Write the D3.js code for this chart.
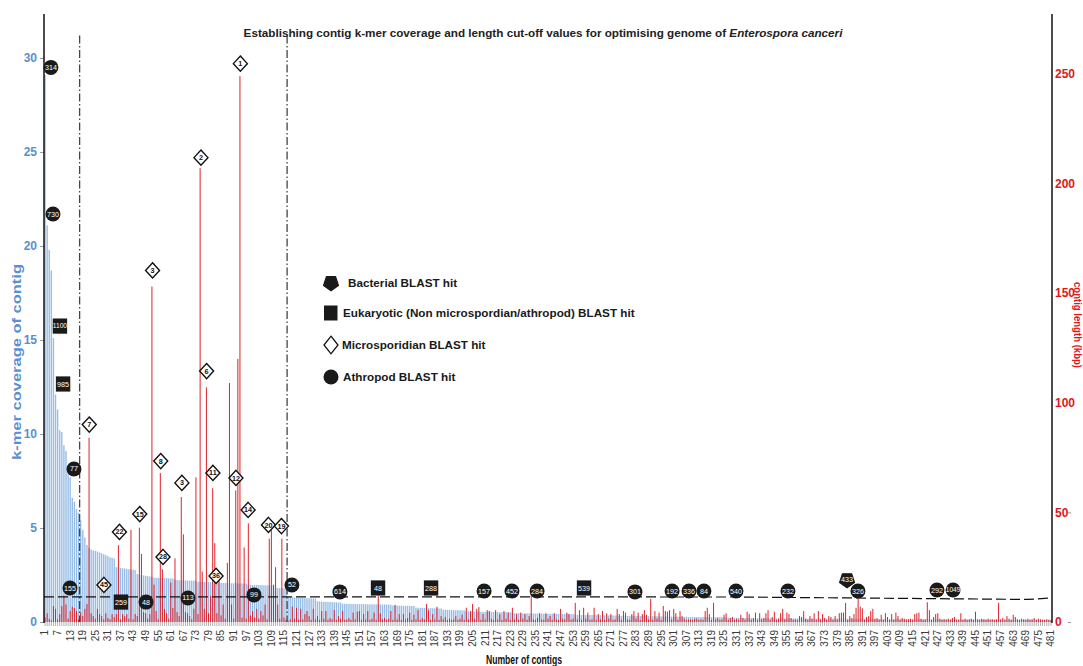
<!DOCTYPE html>
<html>
<head>
<meta charset="utf-8">
<script src="https://cdn.jsdelivr.net/npm/d3@7"></script>
<style>
  body { margin: 0; background: #fff; }
  svg { display: block; }
</style>
</head>
<body>
<svg id="chart" width="1083" height="666"></svg>
<script>
// k-mer coverage of each contig (contigs ranked by coverage)
const coverage = [
  29.1, 21.1, 19.8, 18.7, 15.1, 12.1, 11.3, 10.2, 10.1, 9.4,
  9.1, 8.2, 7.7, 6.6, 6.4, 6.0, 5.8, 5.4, 4.9, 4.5,
  4.1, 3.94, 3.86, 3.8, 3.78, 3.75, 3.7, 3.66, 3.6, 3.56,
  3.5, 3.44, 3.41, 3.38, 2.92, 2.9, 2.88, 2.86, 2.85, 2.83,
  2.81, 2.8, 2.78, 2.76, 2.55, 2.52, 2.5, 2.48, 2.46, 2.44,
  2.42, 2.41, 2.36, 2.35, 2.35, 2.34, 2.34, 2.33, 2.33, 2.32,
  2.32, 2.31, 2.24, 2.23, 2.23, 2.22, 2.22, 2.21, 2.21, 2.2,
  2.2, 2.2, 2.19, 2.14, 2.14, 2.13, 2.13, 2.13, 2.12, 2.12,
  2.12, 2.11, 2.11, 2.1, 2.08, 2.08, 2.07, 2.07, 2.07, 2.06,
  2.06, 2.06, 2.05, 2.05, 2.05, 2.04, 2.04, 1.98, 1.98, 1.97,
  1.97, 1.97, 1.96, 1.96, 1.96, 1.95, 1.95, 1.95, 1.94, 1.94,
  1.82, 1.81, 1.8, 1.8, 1.79, 1.78, 1.34, 1.33, 1.32, 1.31,
  1.3, 1.29, 1.28, 1.28, 1.27, 1.27, 1.26, 1.26, 1.25, 1.25,
  1.1, 1.09, 1.08, 1.08, 1.07, 1.07, 1.06, 1.06, 1.05, 1.05,
  1.04, 1.04, 0.97, 0.97, 0.97, 0.96, 0.96, 0.96, 0.96, 0.95,
  0.95, 0.95, 0.95, 0.95, 0.94, 0.94, 0.94, 0.94, 0.94, 0.93,
  0.93, 0.93, 0.93, 0.93, 0.92, 0.92, 0.88, 0.88, 0.87, 0.87,
  0.87, 0.86, 0.86, 0.86, 0.85, 0.85, 0.85, 0.76, 0.76, 0.75,
  0.75, 0.75, 0.74, 0.74, 0.74, 0.73, 0.73, 0.73, 0.72, 0.72,
  0.65, 0.65, 0.64, 0.64, 0.64, 0.63, 0.63, 0.63, 0.62, 0.62,
  0.62, 0.56, 0.56, 0.56, 0.55, 0.55, 0.55, 0.55, 0.54, 0.54,
  0.54, 0.54, 0.54, 0.53, 0.53, 0.53, 0.53, 0.53, 0.52, 0.52,
  0.52, 0.52, 0.52, 0.51, 0.47, 0.47, 0.47, 0.46, 0.46, 0.46,
  0.46, 0.46, 0.45, 0.45, 0.45, 0.45, 0.45, 0.45, 0.44, 0.44,
  0.44, 0.44, 0.44, 0.44, 0.43, 0.43, 0.43, 0.43, 0.43, 0.42,
  0.42, 0.42, 0.42, 0.38, 0.38, 0.38, 0.38, 0.37, 0.37, 0.37,
  0.37, 0.37, 0.37, 0.36, 0.36, 0.36, 0.36, 0.36, 0.36, 0.35,
  0.35, 0.35, 0.35, 0.35, 0.33, 0.33, 0.33, 0.33, 0.32, 0.32,
  0.32, 0.32, 0.32, 0.32, 0.32, 0.31, 0.31, 0.31, 0.31, 0.31,
  0.31, 0.31, 0.31, 0.3, 0.3, 0.29, 0.29, 0.29, 0.29, 0.29,
  0.28, 0.28, 0.28, 0.28, 0.28, 0.28, 0.28, 0.27, 0.27, 0.27,
  0.27, 0.27, 0.27, 0.27, 0.27, 0.26, 0.26, 0.26, 0.26, 0.26,
  0.26, 0.26, 0.26, 0.26, 0.25, 0.25, 0.22, 0.22, 0.22, 0.22,
  0.22, 0.22, 0.21, 0.21, 0.21, 0.21, 0.21, 0.21, 0.21, 0.21,
  0.2, 0.2, 0.2, 0.2, 0.2, 0.2, 0.2, 0.2, 0.2, 0.2,
  0.19, 0.19, 0.19, 0.19, 0.19, 0.19, 0.19, 0.19, 0.19, 0.19,
  0.19, 0.19, 0.18, 0.18, 0.18, 0.18, 0.18, 0.18, 0.18, 0.18,
  0.18, 0.18, 0.18, 0.18, 0.18, 0.18, 0.18, 0.18, 0.18, 0.18,
  0.17, 0.17, 0.17, 0.17, 0.17, 0.17, 0.17, 0.17, 0.17, 0.17,
  0.17, 0.17, 0.17, 0.17, 0.17, 0.16, 0.16, 0.16, 0.16, 0.16,
  0.16, 0.16, 0.16, 0.16, 0.16, 0.16, 0.16, 0.16, 0.16, 0.16,
  0.16, 0.16, 0.16, 0.16, 0.16, 0.15, 0.15, 0.15, 0.15, 0.15,
  0.15, 0.15, 0.15, 0.15, 0.15, 0.15, 0.15, 0.15, 0.15, 0.15,
  0.15, 0.15, 0.15, 0.15, 0.15, 0.14, 0.14, 0.14, 0.14, 0.14,
  0.14, 0.14, 0.14, 0.14, 0.14, 0.14, 0.14, 0.14, 0.14, 0.14,
  0.14, 0.14, 0.14, 0.14, 0.14, 0.13, 0.13, 0.13, 0.13, 0.13,
  0.13, 0.13, 0.13, 0.13, 0.13, 0.13, 0.13, 0.13, 0.13, 0.13,
  0.13, 0.13, 0.13, 0.13, 0.13, 0.12, 0.12, 0.12, 0.12, 0.12, 0.12
];

// contig length in kbp, same contig order
const lengthKbp = [
  2, 4, 1.5, 0.8, 7.3, 6, 1.2, 3.6, 7.3, 12,
  8, 1.5, 5, 7, 6.4, 5, 1.2, 4.3, 2.7, 6,
  8.2, 84, 4, 2.7, 1.5, 6, 3.6, 2.7, 1.2, 4,
  1.8, 1.2, 3.6, 2.3, 3.6, 35, 1.2, 3.6, 2.7, 3.6,
  1.5, 42, 1.2, 3.6, 2.7, 43, 31, 4.5, 4, 1.5,
  3.6, 153, 17, 5, 1.2, 68, 24, 6, 4, 1.5,
  18, 6.4, 29, 4.5, 2.7, 57, 40, 4.5, 4, 2.7,
  1.2, 6, 66, 3.6, 207, 23, 6, 107, 4, 12,
  61, 36, 4, 22, 3, 8, 1.5, 27, 109, 8,
  1.5, 60, 120, 249, 2, 34, 1.5, 45, 3, 5,
  2, 6, 1.5, 5, 3, 8, 1.2, 38, 42, 17,
  25, 8, 1.5, 38, 2, 1, 0.5, 1.2, 7, 1.5,
  6.5, 1, 6, 1.2, 3.6, 5, 2.7, 1, 6, 1.2,
  2.7, 1, 5, 1.5, 5, 1, 1.8, 1.2, 5.5, 1,
  2.7, 1.5, 5, 1, 1.2, 1.8, 1, 4.3, 1.2, 4.7,
  5, 1, 3.6, 1.2, 5, 1, 1.5, 4.3, 1, 12,
  4, 1.2, 1.8, 1, 1.5, 5, 1, 7.8, 1.2, 3.6,
  1, 3.6, 1.2, 1.8, 4.3, 1, 3.3, 1.2, 5.4, 1,
  1.8, 1.2, 8.2, 5.4, 1, 3.6, 1.2, 7, 1, 2.7,
  1.2, 2.3, 1, 1.5, 1, 1.2, 2.7, 1, 1.5, 3.3,
  1, 6.5, 1.2, 5, 8.2, 1.5, 6, 6.8, 1, 3.6,
  1.2, 5.4, 5, 1.5, 1, 5.4, 1.2, 3.6, 1, 5,
  1.5, 4.3, 1, 6.5, 1.2, 3.6, 1, 4.3, 1.5, 3.6,
  1, 2.7, 14, 1.2, 1, 1.8, 4, 1.2, 1, 4,
  1.5, 2.7, 1, 4, 1.2, 1, 6, 1.5, 1.2, 4.3,
  3.6, 1, 1.5, 8.7, 1.2, 5.4, 1, 6.5, 1.5, 4.3,
  1, 1.2, 6.5, 1, 3.6, 1.2, 5, 1, 4, 1.5,
  3.6, 1, 1.2, 6, 3.6, 1, 5, 4.3, 1.2, 1,
  3.6, 5, 1.5, 4.3, 1, 3.6, 5.4, 3.3, 1.2, 10.5,
  1, 5, 1.5, 4.3, 1, 7.3, 5, 4.7, 5.4, 1.2,
  6, 4, 1, 5, 2.7, 1.5, 1, 1.2, 1.2, 1,
  1.5, 1.5, 1, 1.2, 1, 5, 6.5, 3.6, 1, 8.7,
  1.2, 1.8, 1, 1.2, 3.3, 4, 1, 1.8, 2.3, 1,
  1.5, 1, 3.3, 1.8, 1, 4.7, 3.6, 1, 1.8, 4.3,
  1, 4, 1.2, 1.8, 4, 5.4, 1, 2.3, 4.7, 1,
  1.5, 4, 6, 1.2, 4.3, 3.6, 1.8, 1, 1.2, 1,
  2.7, 2.3, 5, 1.5, 1, 2.7, 1.5, 4, 1, 5,
  1.2, 3.6, 1.8, 1, 2.7, 2.3, 1, 2.7, 1.2, 4,
  4.3, 4.3, 8.7, 1, 2.7, 1.8, 3.6, 6.5, 10.5, 7,
  6.2, 1, 2.3, 2.7, 5, 6, 1.5, 1.8, 1, 3.3,
  1, 4, 2.3, 1, 3.6, 1, 4.3, 2.7, 1, 1.8,
  1.5, 1, 1.2, 1.5, 1, 3.6, 4, 4.3, 1.5, 1,
  1.2, 9, 5.4, 1, 2.3, 3.6, 4, 1.5, 1, 1.2,
  1, 1.5, 1, 1.8, 2.3, 1, 1, 4, 1, 1.5,
  1, 1.2, 1.5, 1, 4.7, 1.2, 1, 1.5, 1.2, 1,
  1.5, 1, 1.2, 1, 1.2, 8.7, 1.2, 1.8, 1, 2.7,
  1.5, 1, 3.3, 2.3, 1.2, 1, 1.5, 1.2, 1, 1.5,
  1, 1.2, 1.8, 1, 1.5, 1.2, 1, 1, 1.2, 1, 0.8
];

const contigs = d3.range(1, coverage.length + 1);

const xTickLabels = [1, 7, 13, 19, 25, 31, 37, 43, 49, 55, 61, 67, 73, 79, 85, 91, 97,
  103, 109, 115, 121, 127, 133, 139, 145, 151, 157, 163, 169, 175, 181, 187, 193, 199,
  205, 211, 217, 223, 229, 235, 241, 247, 253, 259, 265, 271, 277, 283, 289, 295, 301,
  307, 313, 319, 325, 331, 337, 343, 349, 355, 361, 367, 373, 379, 385, 391, 397, 403,
  409, 415, 421, 427, 433, 439, 445, 451, 457, 463, 469, 475, 481];
const coverageTicks = [0, 5, 10, 15, 20, 25, 30];
const lengthTicks = [0, 50, 100, 150, 200, 250];

// cut-off values: coverage threshold and the two contig-number boundaries
const coverageCutoff = [[0.5, 1.34], [330, 1.33], [470, 1.2], [481, 1.28]];
const contigCutoffs = [17.5, 116.5];

// BLAST hits: [contig position, height on coverage axis, label]
const bacterialHits = [[383.7, 2.23, "433"]];
const eukaryoticHits = [
  [8.1, 15.74, "1100"], [9.6, 12.66, "985"], [37.2, 1.06, "259"],
  [159.9, 1.81, "48"], [185.2, 1.81, "288"], [258.2, 1.81, "539"]
];
const microsporidianHits = [
  [94.2, 29.7, "1"], [75.4, 24.7, "2"], [52.3, 18.7, "3"], [78.1, 13.35, "6"],
  [22.1, 10.5, "7"], [56.2, 8.56, "8"], [66.3, 7.4, "3"], [81.1, 7.93, "11"],
  [92.1, 7.66, "12"], [97.9, 5.96, "14"], [46.2, 5.74, "15"], [36.5, 4.79, "22"],
  [107.6, 5.16, "20"], [113.8, 5.1, "19"], [57.3, 3.46, "28"], [29.1, 1.97, "45"],
  [82.6, 2.45, "36"]
];
const athropodHits = [
  [3.8, 29.5, "314"], [4.8, 21.7, "730"], [14.8, 8.14, "77"], [12.9, 1.81, "155"],
  [49.2, 1.06, "48"], [69.2, 1.28, "113"], [100.7, 1.44, "99"], [118.8, 1.97, "52"],
  [141.7, 1.6, "614"], [210.5, 1.65, "157"], [223.8, 1.65, "452"], [235.8, 1.65, "284"],
  [282.5, 1.6, "301"], [300.2, 1.65, "192"], [308.3, 1.65, "336"], [315.4, 1.65, "84"],
  [330.7, 1.65, "540"], [355.5, 1.65, "232"], [388.9, 1.65, "326"], [426.6, 1.7, "292"],
  [434.3, 1.7, "1049"]
];

const legendItems = [
  { type: "bacterial", text: "Bacterial BLAST hit" },
  { type: "eukaryotic", text: "Eukaryotic (Non microspordian/athropod) BLAST hit" },
  { type: "microsporidian", text: "Microsporidian BLAST hit" },
  { type: "athropod", text: "Athropod BLAST hit" }
];

// ---- layout & styles ----
const SANS = "'Liberation Sans', Arial, Helvetica, sans-serif";
const NARROW = "'Liberation Sans Narrow', 'Liberation Sans', Arial, sans-serif";
const BLUE = "#6fa3dc";
const BLUE_TXT = "#5a8fd0";
const RED = "#e0222a";
const RED_TXT = "#e0161d";
const P = { left: 44, right: 1052, top: 14, base: 622 };

const svg = d3.select("#chart");

const x = d3.scaleBand().domain(contigs).range([P.left, P.right]);
const xc = d3.scaleLinear().domain([0.5, contigs.length + 0.5]).range([P.left, P.right]);
const yCov = d3.scaleLinear().domain([0, 32.34]).range([P.base, P.top]);
const yLen = d3.scaleLinear().domain([0, 277.3]).range([P.base, P.top]);
const bw = x.bandwidth();

// coverage bars (behind)
svg.append("g").selectAll("rect")
  .data(contigs)
  .join("rect")
  .attr("x", d => x(d) + bw / 2 - 0.7)
  .attr("width", 1.4)
  .attr("y", d => yCov(coverage[d - 1]))
  .attr("height", d => P.base - yCov(coverage[d - 1]))
  .attr("fill", BLUE)
  .attr("fill-opacity", 0.72);

// length bars (front)
svg.append("g").selectAll("rect")
  .data(contigs)
  .join("rect")
  .attr("x", d => x(d) + bw / 2 - 0.5)
  .attr("width", 1.0)
  .attr("y", d => yLen(lengthKbp[d - 1]))
  .attr("height", d => P.base - yLen(lengthKbp[d - 1]))
  .attr("fill", RED);

// x axis: minor ticks at each contig
svg.append("g").selectAll("line")
  .data(contigs)
  .join("line")
  .attr("x1", d => x(d) + bw / 2).attr("x2", d => x(d) + bw / 2)
  .attr("y1", P.base).attr("y2", P.base + 4)
  .attr("stroke", "#aaa").attr("stroke-width", 0.9);

const xAxis = svg.append("g")
  .attr("transform", `translate(0,${P.base})`)
  .call(d3.axisBottom(x).tickValues(xTickLabels).tickSize(0));
xAxis.select(".domain").remove();
xAxis.selectAll("text")
  .attr("transform", "rotate(-90)")
  .attr("text-anchor", "end")
  .attr("x", -8).attr("y", 0).attr("dy", "0.34em")
  .attr("font-family", SANS).attr("font-size", 10).attr("fill", "#3a3a3a");

// left axis
const yAxisL = svg.append("g")
  .attr("transform", `translate(${P.left},0)`)
  .call(d3.axisLeft(yCov).tickValues(coverageTicks).tickSize(4).tickPadding(3));
yAxisL.select(".domain").remove();
yAxisL.selectAll("line").attr("stroke", "#999");
yAxisL.selectAll("text")
  .attr("font-family", NARROW).attr("font-weight", "bold").attr("font-size", 12)
  .attr("fill", BLUE_TXT);

// right axis
const yAxisR = svg.append("g")
  .attr("transform", `translate(${P.right},0)`)
  .call(d3.axisRight(yLen).tickValues(lengthTicks).tickSize(0).tickPadding(3));
yAxisR.select(".domain").remove();
yAxisR.selectAll("text")
  .attr("font-family", NARROW).attr("font-weight", "bold").attr("font-size", 12)
  .attr("fill", RED_TXT);
yAxisR.selectAll(".tick").append("line")
  .attr("x1", 16).attr("x2", 19).attr("stroke", "#999");

svg.append("line").attr("x1", P.left).attr("x2", P.left)
  .attr("y1", P.top).attr("y2", P.base + 1).attr("stroke", "#111").attr("stroke-width", 1.5);
svg.append("line").attr("x1", P.right).attr("x2", P.right)
  .attr("y1", P.top).attr("y2", P.base + 1).attr("stroke", "#111").attr("stroke-width", 1.5);

// cut-off lines
svg.append("g").selectAll("line")
  .data(contigCutoffs)
  .join("line")
  .attr("x1", d => xc(d)).attr("x2", d => xc(d))
  .attr("y1", yCov(31.2)).attr("y2", P.base)
  .attr("stroke", "#444").attr("stroke-width", 1.3)
  .attr("stroke-dasharray", "8,2.5,1.5,2.5");

svg.append("path")
  .datum(coverageCutoff)
  .attr("d", d3.line().x(d => xc(d[0])).y(d => yCov(d[1])))
  .attr("fill", "none").attr("stroke", "#111").attr("stroke-width", 1.2)
  .attr("stroke-dasharray", "10,4");

// ---- markers ----
const diamondPath = (w, h) => `M0,${-h}L${w},0L0,${h}L${-w},0Z`;
const pentagonPath = r => {
  const pts = d3.range(5).map(k => {
    const a = Math.PI / 2 + k * 2 * Math.PI / 5;
    return [r * Math.cos(a), r * Math.sin(a)];
  });
  return "M" + pts.map(p => p.join(",")).join("L") + "Z";
};

function drawShape(g, type) {
  if (type === "athropod") {
    g.append("circle").attr("r", 7.5).attr("fill", "#1a1a1a");
  } else if (type === "eukaryotic") {
    g.append("rect").attr("x", -7.2).attr("y", -7.6).attr("width", 14.4).attr("height", 15.2)
      .attr("fill", "#1a1a1a");
  } else if (type === "microsporidian") {
    g.append("path").attr("d", diamondPath(7, 7.6))
      .attr("fill", "#fff").attr("stroke", "#111").attr("stroke-width", 1.4);
  } else {
    g.append("path").attr("d", pentagonPath(7.8))
      .attr("fill", "#1a1a1a").attr("stroke", "#1a1a1a").attr("stroke-width", 1.2)
      .attr("stroke-linejoin", "round");
  }
}

function drawHits(data, type) {
  const g = svg.append("g").selectAll("g")
    .data(data)
    .join("g")
    .attr("transform", d => `translate(${xc(d[0])},${yCov(d[1])})`);
  g.each(function () { drawShape(d3.select(this), type); });
  g.append("text")
    .attr("text-anchor", "middle").attr("dy", "0.35em")
    .attr("y", type === "bacterial" ? -1 : 0)
    .attr("font-family", NARROW).attr("font-size", d => d[2].length > 3 ? 6.6 : 7.2)
    .attr("fill", type === "microsporidian" ? "#111" : "#fff")
    .attr("font-weight", type === "microsporidian" ? "bold" : "normal")
    .text(d => d[2]);
}

drawHits(eukaryoticHits, "eukaryotic");
drawHits(athropodHits, "athropod");
drawHits(bacterialHits, "bacterial");
drawHits(microsporidianHits, "microsporidian");

// ---- legend ----
const legendY = [283, 313, 345, 377];
const legendTextX = [348, 343, 342, 343];
const leg = svg.append("g").selectAll("g")
  .data(legendItems)
  .join("g")
  .attr("transform", (d, i) => `translate(331,${legendY[i]})`);
leg.each(function (d) {
  const g = d3.select(this);
  if (d.type === "microsporidian") {
    g.append("path").attr("d", diamondPath(7, 8.8))
      .attr("fill", "#fff").attr("stroke", "#111").attr("stroke-width", 1.3);
  } else if (d.type === "eukaryotic") {
    g.append("rect").attr("x", -7).attr("y", -7.5).attr("width", 13.5).attr("height", 15)
      .attr("fill", "#1a1a1a");
  } else {
    drawShape(g, d.type);
  }
});
leg.append("text")
  .attr("x", (d, i) => legendTextX[i] - 331)
  .attr("dy", "0.36em")
  .attr("font-family", SANS).attr("font-weight", "bold").attr("font-size", 11.7)
  .attr("fill", "#1a1a1a")
  .text(d => d.text);

// ---- titles ----
const title = svg.append("text")
  .attr("x", 543).attr("y", 37)
  .attr("text-anchor", "middle")
  .attr("font-family", SANS).attr("font-weight", "bold").attr("font-size", 11.7)
  .attr("fill", "#222");
title.append("tspan").text("Establishing contig k-mer coverage and length cut-off values for optimising genome of ");
title.append("tspan").attr("font-style", "italic").text("Enterospora canceri");

svg.append("text")
  .attr("transform", "translate(17,362) rotate(-90)")
  .attr("text-anchor", "middle").attr("dy", "0.35em")
  .attr("font-family", NARROW).attr("font-weight", "bold").attr("font-size", 12)
  .attr("textLength", 196).attr("lengthAdjust", "spacingAndGlyphs")
  .attr("fill", BLUE_TXT)
  .text("k-mer coverage of contig");

svg.append("text")
  .attr("transform", "translate(1077,325) rotate(90)")
  .attr("text-anchor", "middle").attr("dy", "0.35em")
  .attr("font-family", NARROW).attr("font-weight", "bold").attr("font-size", 10)
  .attr("textLength", 86).attr("lengthAdjust", "spacingAndGlyphs")
  .attr("fill", RED_TXT)
  .text("contig length (kbp)");

svg.append("text")
  .attr("x", 524).attr("y", 664)
  .attr("text-anchor", "middle")
  .attr("font-family", NARROW).attr("font-weight", "bold").attr("font-size", 12)
  .attr("textLength", 76).attr("lengthAdjust", "spacingAndGlyphs")
  .attr("fill", "#111")
  .text("Number of contigs");
</script>
</body>
</html>
